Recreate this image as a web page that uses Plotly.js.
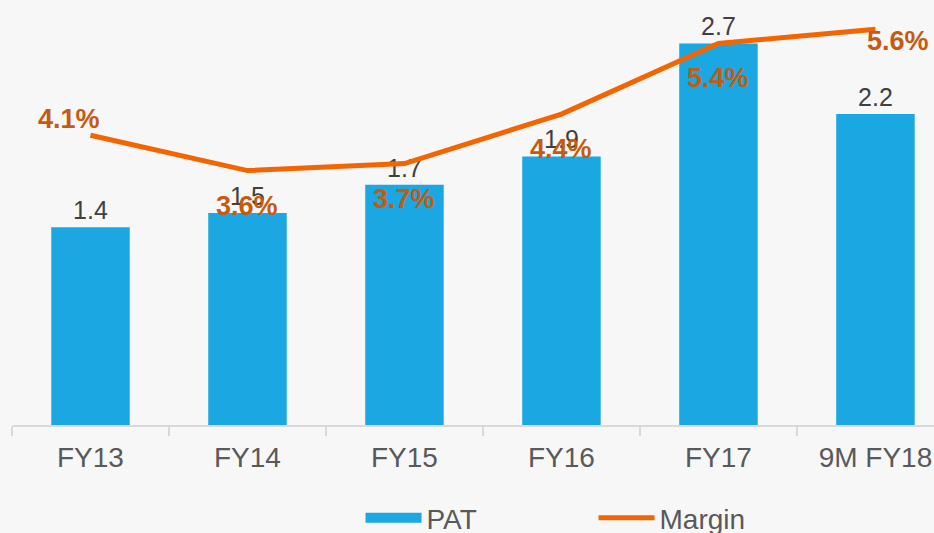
<!DOCTYPE html>
<html>
<head>
<meta charset="utf-8">
<script src="https://cdn.plot.ly/plotly-3.0.1.min.js"></script>
<style>
html,body{margin:0;padding:0;background:#f7f7f7;}
#chart{width:934px;height:533px;}
</style>
</head>
<body>
<div id="chart"></div>
<script>
const categories = ["FY13", "FY14", "FY15", "FY16", "FY17", "9M FY18"];
const patValues = [1.4, 1.5, 1.7, 1.9, 2.7, 2.2];
const marginValues = [4.1, 3.6, 3.7, 4.4, 5.4, 5.6];
const marginLabels = ["4.1%", "3.6%", "3.7%", "4.4%", "5.4%", "5.6%"];
const patLabels = ["1.4", "1.5", "1.7", "1.9", "2.7", "2.2"];

const labelShiftX = [-21, 0, 0, 0, 0, 23];
const labelShiftY = [16, -35, -35, -35, -35, -12];

const FONT = "Liberation Sans, Arial, sans-serif";
const BLUE = "#1ba7e1";
const ORANGE = "#f26500";

const bar = {
  type: "bar",
  name: "PAT",
  x: categories,
  y: patValues,
  text: patLabels,
  textposition: "outside",
  textfont: {family: FONT, size: 25, color: "#404040"},
  marker: {color: BLUE},
  width: 0.5,
  cliponaxis: false,
  showlegend: false,
  hoverinfo: "skip"
};

// legend swatch for the bars (wide rectangle like the original)
const barKey = {
  type: "scatter",
  mode: "lines",
  name: "PAT",
  x: [null],
  y: [null],
  line: {color: BLUE, width: 15},
  legendrank: 1,
  hoverinfo: "skip"
};

const line = {
  type: "scatter",
  mode: "lines",
  name: "Margin",
  x: categories,
  y: marginValues,
  yaxis: "y2",
  line: {color: ORANGE, width: 5},
  cliponaxis: false,
  legendrank: 2,
  hoverinfo: "skip"
};

const annotations = categories.map((c, i) => ({
  x: c, y: marginValues[i], xref: "x", yref: "y2",
  text: "<b>" + marginLabels[i] + "</b>",
  showarrow: false,
  xshift: labelShiftX[i], yshift: labelShiftY[i],
  font: {family: FONT, size: 27, color: "#c55a11"}
}));

const layout = {
  width: 934, height: 533,
  paper_bgcolor: "#f7f7f7",
  plot_bgcolor: "#f7f7f7",
  margin: {l: 12, r: 0, t: 1, b: 108},
  showlegend: true,
  xaxis: {
    type: "category",
    range: [-0.5, 5.373],
    automargin: false,
    showline: true, linecolor: "#d9d9d9", linewidth: 2,
    ticks: "outside", tickson: "boundaries", ticklen: 9, tickcolor: "#d9d9d9", tickwidth: 2,
    ticklabelstandoff: 6,
    tickfont: {family: FONT, size: 28, color: "#595959"},
    showgrid: false, zeroline: false, fixedrange: true
  },
  yaxis: {range: [0, 3], visible: false, showgrid: false, zeroline: false, automargin: false},
  yaxis2: {range: [0, 6], overlaying: "y", side: "right", visible: false, showgrid: false, zeroline: false, automargin: false},
  legend: {
    orientation: "h",
    xref: "container", yref: "container",
    x: 0.386, xanchor: "left", y: 0.028, yanchor: "middle",
    font: {family: FONT, size: 28, color: "#595959"},
    bgcolor: "rgba(0,0,0,0)",
    entrywidth: 162, entrywidthmode: "pixels",
    itemwidth: 56,
    traceorder: "normal"
  },
  annotations: annotations
};

Plotly.newPlot("chart", [barKey, bar, line], layout, {displayModeBar: false, staticPlot: true});
</script>
</body>
</html>
